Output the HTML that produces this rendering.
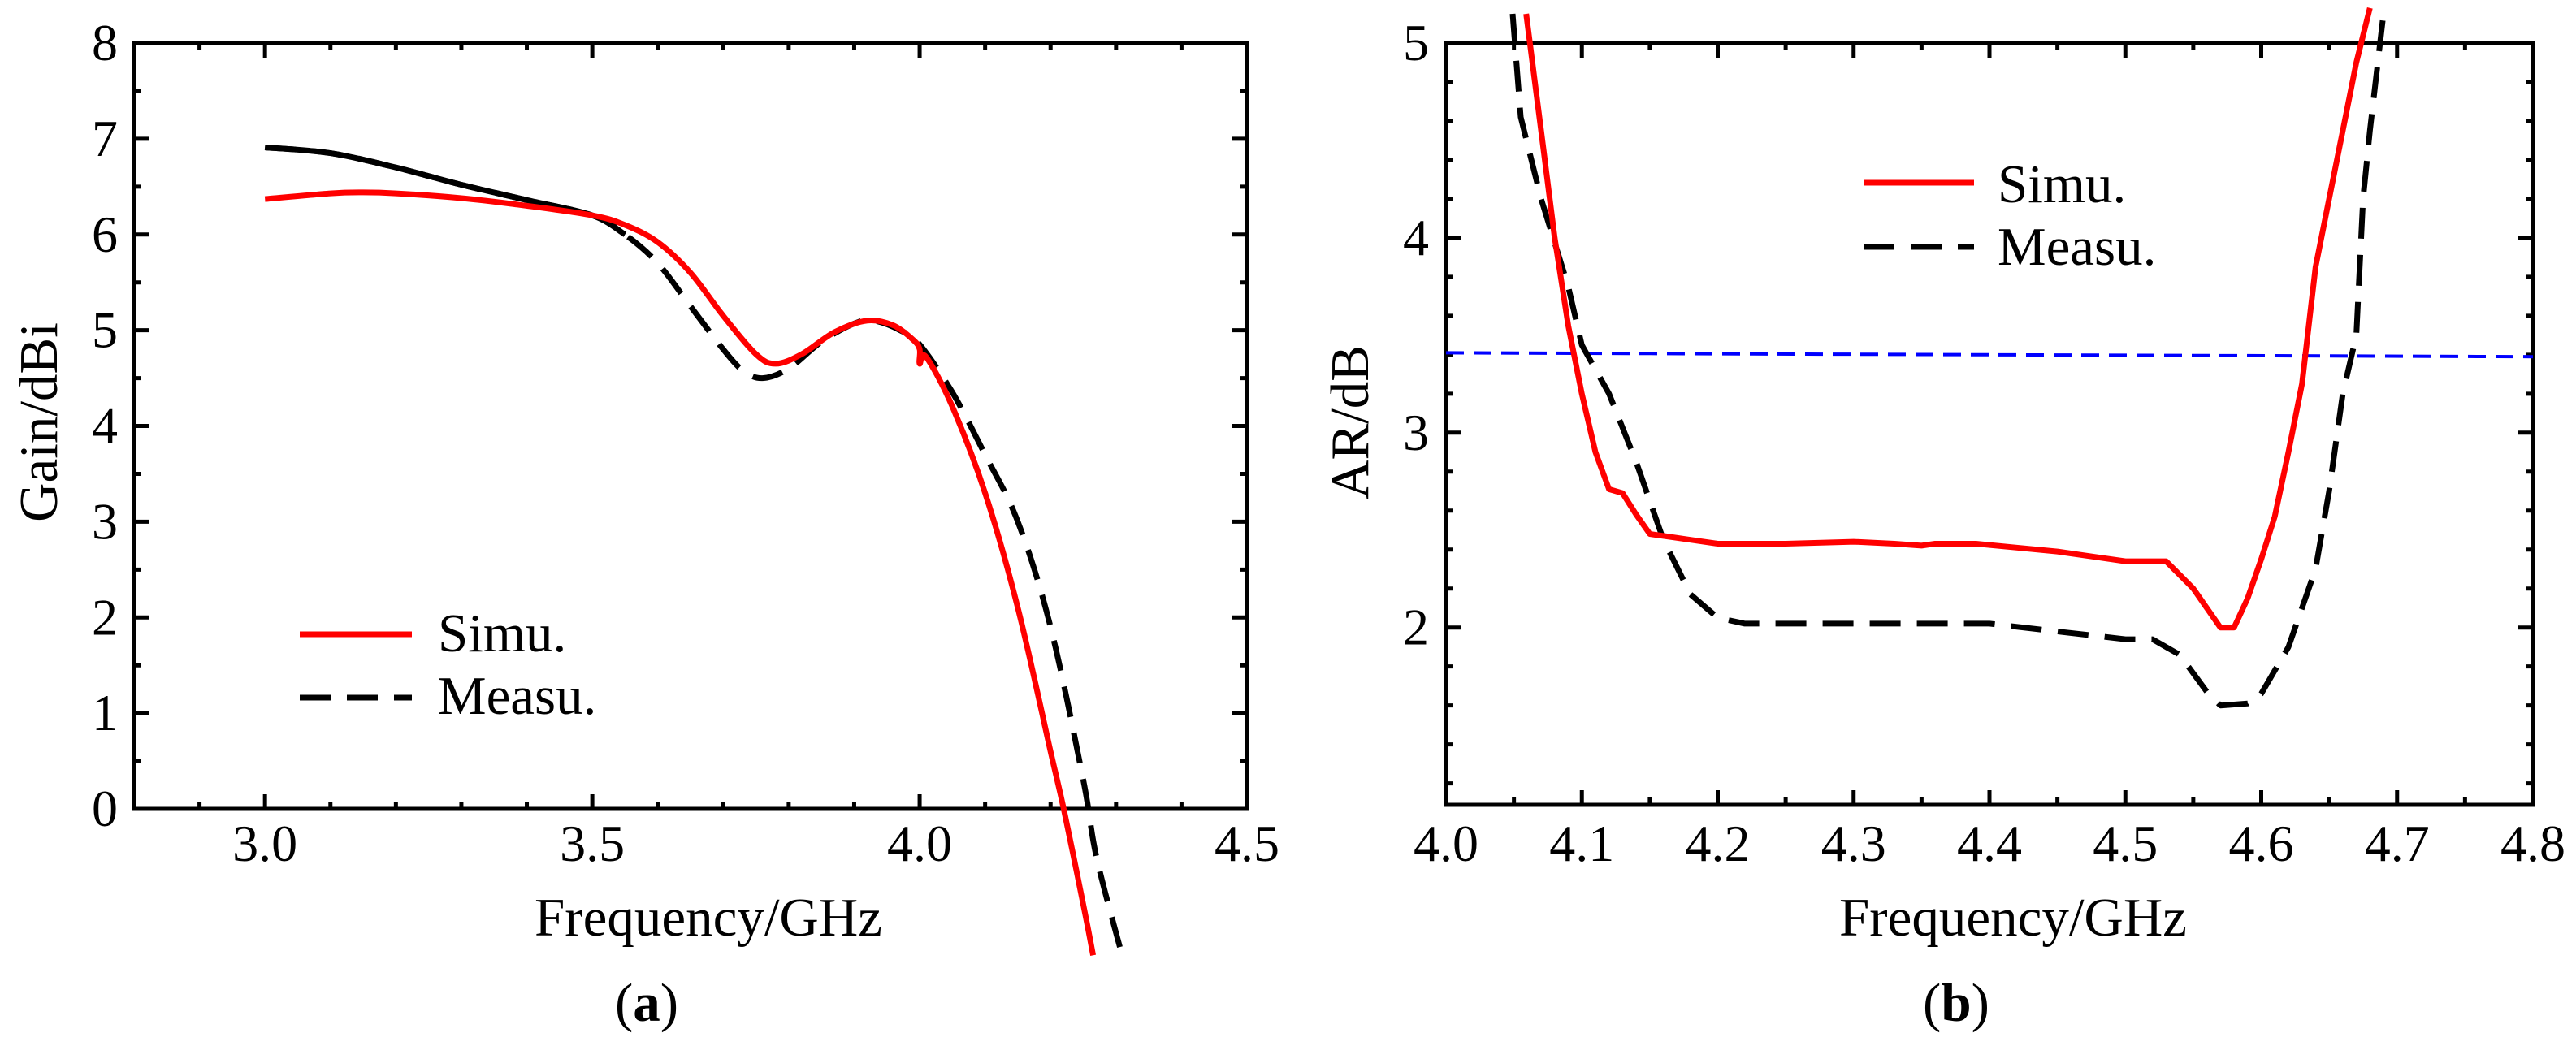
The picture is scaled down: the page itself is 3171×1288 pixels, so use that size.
<!DOCTYPE html>
<html><head><meta charset="utf-8">
<style>
html,body{margin:0;padding:0;background:#fff;}
svg{display:block;}
text{font-family:"Liberation Serif",serif;fill:#000;}
</style></head>
<body>
<svg id="chart" width="3171" height="1288" viewBox="0 0 3171 1288" xmlns="http://www.w3.org/2000/svg">
<g id="pa"></g>
<g id="pb"></g>
</svg>
<script>
// Panel (a) data
const gainSimuX = [3.0,3.1,3.15,3.2,3.3,3.4,3.5,3.55,3.6,3.65,3.7,3.75,3.78,3.82,3.87,3.92,3.96,3.99,4.0,4.0,4.01,4.05,4.1,4.15,4.2,4.22,4.25,4.265];
const gainSimuY = [6.37,6.43,6.44,6.43,6.38,6.3,6.2,6.1,5.92,5.6,5.15,4.75,4.65,4.75,4.98,5.1,5.05,4.9,4.8,4.65,4.72,4.2,3.3,2.1,0.6,0.0,-1.0,-1.53];
const gainMeasX = [3.0,3.1,3.2,3.3,3.4,3.5,3.55,3.6,3.65,3.7,3.73,3.76,3.8,3.85,3.9,3.93,3.97,4.0,4.05,4.1,4.15,4.2,4.25,4.27,4.31];
const gainMeasY = [6.91,6.85,6.7,6.52,6.36,6.2,6.0,5.7,5.25,4.8,4.58,4.5,4.6,4.88,5.07,5.1,5.0,4.85,4.35,3.7,3.0,1.9,0.3,-0.5,-1.55];
const gainXTicks = ["3.0","3.5","4.0","4.5"];
const gainYTicks = ["0","1","2","3","4","5","6","7","8"];
// Panel (b) data
const arSimuX = [4.059,4.07,4.08,4.09,4.10,4.11,4.12,4.13,4.14,4.15,4.16,4.18,4.2,4.25,4.3,4.33,4.35,4.36,4.39,4.42,4.45,4.48,4.5,4.53,4.54,4.55,4.56,4.57,4.58,4.59,4.6,4.61,4.62,4.63,4.64,4.65,4.66,4.67,4.68];
const arSimuY = [5.15,4.55,4.0,3.55,3.2,2.9,2.71,2.69,2.58,2.48,2.47,2.45,2.43,2.43,2.44,2.43,2.42,2.43,2.43,2.41,2.39,2.36,2.34,2.34,2.27,2.2,2.1,2.0,2.0,2.15,2.35,2.57,2.9,3.25,3.85,4.2,4.55,4.9,5.18];
const arMeasX = [4.049,4.055,4.07,4.09,4.1,4.12,4.14,4.16,4.18,4.2,4.22,4.3,4.4,4.45,4.5,4.52,4.54,4.56,4.57,4.59,4.6,4.62,4.64,4.65,4.66,4.67,4.675,4.68,4.69];
const arMeasY = [5.15,4.62,4.2,3.75,3.45,3.2,2.85,2.45,2.17,2.05,2.02,2.02,2.02,1.98,1.94,1.94,1.86,1.67,1.6,1.61,1.66,1.9,2.3,2.7,3.2,3.5,4.2,4.55,5.15];
const arRefX = [4.0,4.8];
const arRefY = [3.41,3.39];
const arXTicks = ["4.0","4.1","4.2","4.3","4.4","4.5","4.6","4.7","4.8"];
const arYTicks = ["2","3","4","5"];

const NS="http://www.w3.org/2000/svg";
const FS=64, TFS=67;
function mk(parent,tag,attrs,txt){const e=document.createElementNS(NS,tag);for(const k in attrs)e.setAttribute(k,attrs[k]);if(txt!==undefined)e.textContent=txt;parent.appendChild(e);return e;}
function pathD(xs,ys,sx,sy){return xs.map((x,i)=>(i?'L':'M')+sx(x).toFixed(1)+' '+sy(ys[i]).toFixed(1)).join(' ');}
function smoothD(xs,ys,sx,sy){
  const P=xs.map((x,i)=>[sx(x),sy(ys[i])]);
  let d='M'+P[0][0].toFixed(1)+' '+P[0][1].toFixed(1);
  for(let i=0;i<P.length-1;i++){
    const p0=P[Math.max(0,i-1)],p1=P[i],p2=P[i+1],p3=P[Math.min(P.length-1,i+2)];
    const c1=[p1[0]+(p2[0]-p0[0])/6,p1[1]+(p2[1]-p0[1])/6];
    const c2=[p2[0]-(p3[0]-p1[0])/6,p2[1]-(p3[1]-p1[1])/6];
    d+=`C${c1[0].toFixed(1)} ${c1[1].toFixed(1)} ${c2[0].toFixed(1)} ${c2[1].toFixed(1)} ${p2[0].toFixed(1)} ${p2[1].toFixed(1)}`;
  }
  return d;
}

function frame(g,L,R,T,B,sx,sy,xmaj,xmin,ymaj,ymin,x0,x1,y0,y1){
  const r=mk(g,'rect',{x:L,y:T,width:R-L,height:B-T,fill:'none',stroke:'#000','stroke-width':5});
  
  
  let d='';
  for(let v=x0;v<=x1+1e-9;v+=xmin){const isMaj=Math.abs(v/xmaj-Math.round(v/xmaj))<1e-6;const len=isMaj?18:9;const X=sx(v);d+=`M${X} ${B}V${B-len}M${X} ${T}V${T+len}`;}
  for(let v=y0;v<=y1+1e-9;v+=ymin){const isMaj=Math.abs(v/ymaj-Math.round(v/ymaj))<1e-6;const len=isMaj?18:9;const Y=sy(v);d+=`M${L} ${Y}H${L+len}M${R} ${Y}H${R-len}`;}
  const t=mk(g,'path',{d:d,stroke:'#000','stroke-width':5,fill:'none'});
  
  
}

// ---------- Panel (a)
(function(){
  const g=document.getElementById('pa');
  const L=165,R=1535,T=53,B=996;
  const sx=v=>L+(v-2.8)/(4.5-2.8)*(R-L);
  const sy=v=>B-(v-0)/(8-0)*(B-T);
  frame(g,L,R,T,B,sx,sy,0.5,0.1,1,0.5,2.9,4.5,0,8);
  gainXTicks.forEach(s=>{const t=mk(g,'text',{x:sx(parseFloat(s)),y:1060,'font-size':FS,'text-anchor':'middle'},s);
    
    });
  gainYTicks.forEach(s=>{const t=mk(g,'text',{x:145,y:sy(parseFloat(s))+21,'font-size':FS,'text-anchor':'end'},s);
    
    });
  let t=mk(g,'text',{x:872,y:1152,'font-size':TFS,'text-anchor':'middle'},'Frequency/GHz');
  
  
  t=mk(g,'text',{x:0,y:0,'font-size':TFS,'text-anchor':'middle',transform:'translate(70,520) rotate(-90)'},'Gain/dBi');
  
  
  t=mk(g,'text',{x:796,y:1257,'font-size':TFS,'text-anchor':'middle'});
  t.innerHTML='(<tspan font-weight="bold">a</tspan>)';
  
  
  let p=mk(g,'path',{d:smoothD(gainMeasX,gainMeasY,sx,sy),fill:'none',stroke:'#000','stroke-width':7,'stroke-dasharray':'38 20','stroke-linejoin':'round'});
  
  
  const n=gainMeasX.filter(x=>x<=3.55).length;
  p=mk(g,'path',{d:smoothD(gainMeasX.slice(0,n),gainMeasY.slice(0,n),sx,sy),fill:'none',stroke:'#000','stroke-width':7,'stroke-linejoin':'round'});
  
  
  p=mk(g,'path',{d:smoothD(gainSimuX,gainSimuY,sx,sy),fill:'none',stroke:'#ff0000','stroke-width':7,'stroke-linejoin':'round'});
  
  
  p=mk(g,'line',{x1:369,x2:507,y1:781,y2:781,stroke:'#ff0000','stroke-width':7});
  
  
  p=mk(g,'line',{x1:369,x2:507,y1:859,y2:859,stroke:'#000','stroke-width':7,'stroke-dasharray':'38 20'});
  
  
  t=mk(g,'text',{x:539,y:802,'font-size':TFS},'Simu.');
  
  
  t=mk(g,'text',{x:539,y:879,'font-size':TFS},'Measu.');
  
  
})();

// ---------- Panel (b)
(function(){
  const g=document.getElementById('pb');
  const L=1780,R=3118,T=53,B=991;
  const sx=v=>L+(v-4.0)/(4.8-4.0)*(R-L);
  const sy=v=>B-(v-1.09)/(5-1.09)*(B-T);
  frame(g,L,R,T,B,sx,sy,0.1,0.05,1,0.2,4.0,4.8,1.2,5);
  arXTicks.forEach(s=>{const t=mk(g,'text',{x:sx(parseFloat(s)),y:1060,'font-size':FS,'text-anchor':'middle'},s);
    
    });
  arYTicks.forEach(s=>{const t=mk(g,'text',{x:1759,y:sy(parseFloat(s))+21,'font-size':FS,'text-anchor':'end'},s);
    
    });
  let t=mk(g,'text',{x:2478,y:1152,'font-size':TFS,'text-anchor':'middle'},'Frequency/GHz');
  
  
  t=mk(g,'text',{x:0,y:0,'font-size':TFS,'text-anchor':'middle',transform:'translate(1684,520) rotate(-90)'},'AR/dB');
  
  
  t=mk(g,'text',{x:2408,y:1257,'font-size':TFS,'text-anchor':'middle'});
  t.innerHTML='(<tspan font-weight="bold">b</tspan>)';
  
  
  let p=mk(g,'path',{d:pathD(arRefX,arRefY,sx,sy),fill:'none',stroke:'#0000ff','stroke-width':4,'stroke-dasharray':'22 12'});
  
  
  p=mk(g,'path',{d:pathD(arMeasX,arMeasY,sx,sy),fill:'none',stroke:'#000','stroke-width':7,'stroke-dasharray':'38 20','stroke-linejoin':'round'});
  
  
  p=mk(g,'path',{d:pathD(arSimuX,arSimuY,sx,sy),fill:'none',stroke:'#ff0000','stroke-width':7,'stroke-linejoin':'round'});
  
  
  p=mk(g,'line',{x1:2294,x2:2430,y1:225,y2:225,stroke:'#ff0000','stroke-width':7});
  
  
  p=mk(g,'line',{x1:2294,x2:2430,y1:304,y2:304,stroke:'#000','stroke-width':7,'stroke-dasharray':'38 20'});
  
  
  t=mk(g,'text',{x:2459,y:249,'font-size':TFS},'Simu.');
  
  
  t=mk(g,'text',{x:2459,y:326,'font-size':TFS},'Measu.');
  
  
})();
</script>
</body></html>
